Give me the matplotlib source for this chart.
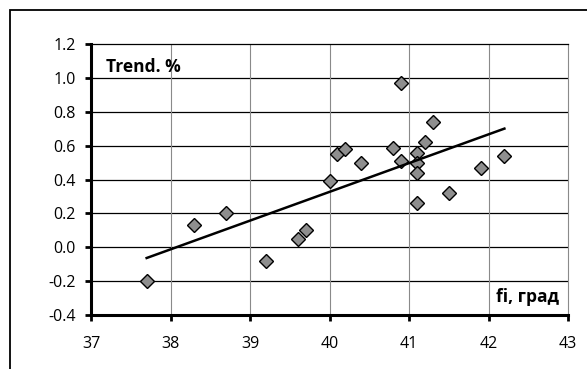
import matplotlib
matplotlib.use('Agg')
import matplotlib.pyplot as plt
import numpy as np
from matplotlib.patches import Rectangle
from matplotlib.ticker import FormatStrFormatter

plt.rcParams['font.family'] = ['Open Sans', 'DejaVu Sans']

# Latitude (fi, deg) vs trend (%)
fi = [40.9, 41.3, 40.1, 40.2, 40.4, 40.0, 40.8, 40.9, 41.2, 41.1, 41.1,
      41.1, 41.5, 41.1, 42.2, 41.9, 37.7, 38.3, 38.7, 39.2, 39.6, 39.7]
trend = [0.97, 0.74, 0.55, 0.58, 0.50, 0.39, 0.59, 0.51, 0.62, 0.56, 0.50,
         0.44, 0.32, 0.26, 0.54, 0.47, -0.20, 0.13, 0.20, -0.08, 0.05, 0.10]
x_ticks = [37, 38, 39, 40, 41, 42, 43]
y_ticks = [-0.4, -0.2, 0.0, 0.2, 0.4, 0.6, 0.8, 1.0, 1.2]

W, H = 587, 369
fig = plt.figure(figsize=(W / 100, H / 100), dpi=100)
ax = fig.add_axes([91 / W, 1 - 315 / H, (568 - 91) / W, (315 - 44.3) / H])

# outer chart frame (runs off the right and bottom edges)
fig.patches.append(Rectangle((10 / W, -0.1), 1.1, 1.1 - 10 / H,
                             transform=fig.transFigure, fill=False,
                             edgecolor='black', linewidth=1.3))

# grid: dark horizontal, grey vertical
for y in y_ticks[1:-1]:
    ax.axhline(y, color='black', linewidth=0.9, zorder=1)
for x in x_ticks[1:-1]:
    ax.axvline(x, color='#8a8a8a', linewidth=0.8, zorder=1)

ax.plot(fi, trend, linestyle='none', marker='D', markersize=7.4,
        markerfacecolor='#8e8e8e', markeredgecolor='black',
        markeredgewidth=1.0, zorder=3, clip_on=False)

# linear trend line
k, b = np.polyfit(fi, trend, 1)
xs = np.array([min(fi), max(fi)])
ax.plot(xs, k * xs + b, color='black', linewidth=1.8, zorder=4)

ax.set_xlim(37, 43)
ax.set_ylim(-0.4, 1.2)
ax.set_xticks(x_ticks)
ax.set_yticks(y_ticks)
ax.yaxis.set_major_formatter(FormatStrFormatter('%.1f'))

ax.spines['left'].set_linewidth(2.2)
ax.spines['bottom'].set_linewidth(2.2)
ax.spines['top'].set_linewidth(0.9)
ax.spines['right'].set_color('#8a8a8a')
ax.spines['right'].set_linewidth(0.8)
ax.tick_params(axis='both', direction='out', length=4, width=2.0,
               labelsize=11.5, colors='black')
ax.tick_params(axis='y', pad=7)
ax.tick_params(axis='x', pad=11)

ax.text(106 / W, 1 - 67 / H, 'Trend. %', transform=fig.transFigure,
        fontsize=12.5, fontweight='bold', va='center', ha='left')
ax.text(559 / W, 1 - 297 / H, 'fi, град', transform=fig.transFigure,
        fontsize=12.5, fontweight='bold', va='center', ha='right')

fig.savefig('out.png', dpi=100)
